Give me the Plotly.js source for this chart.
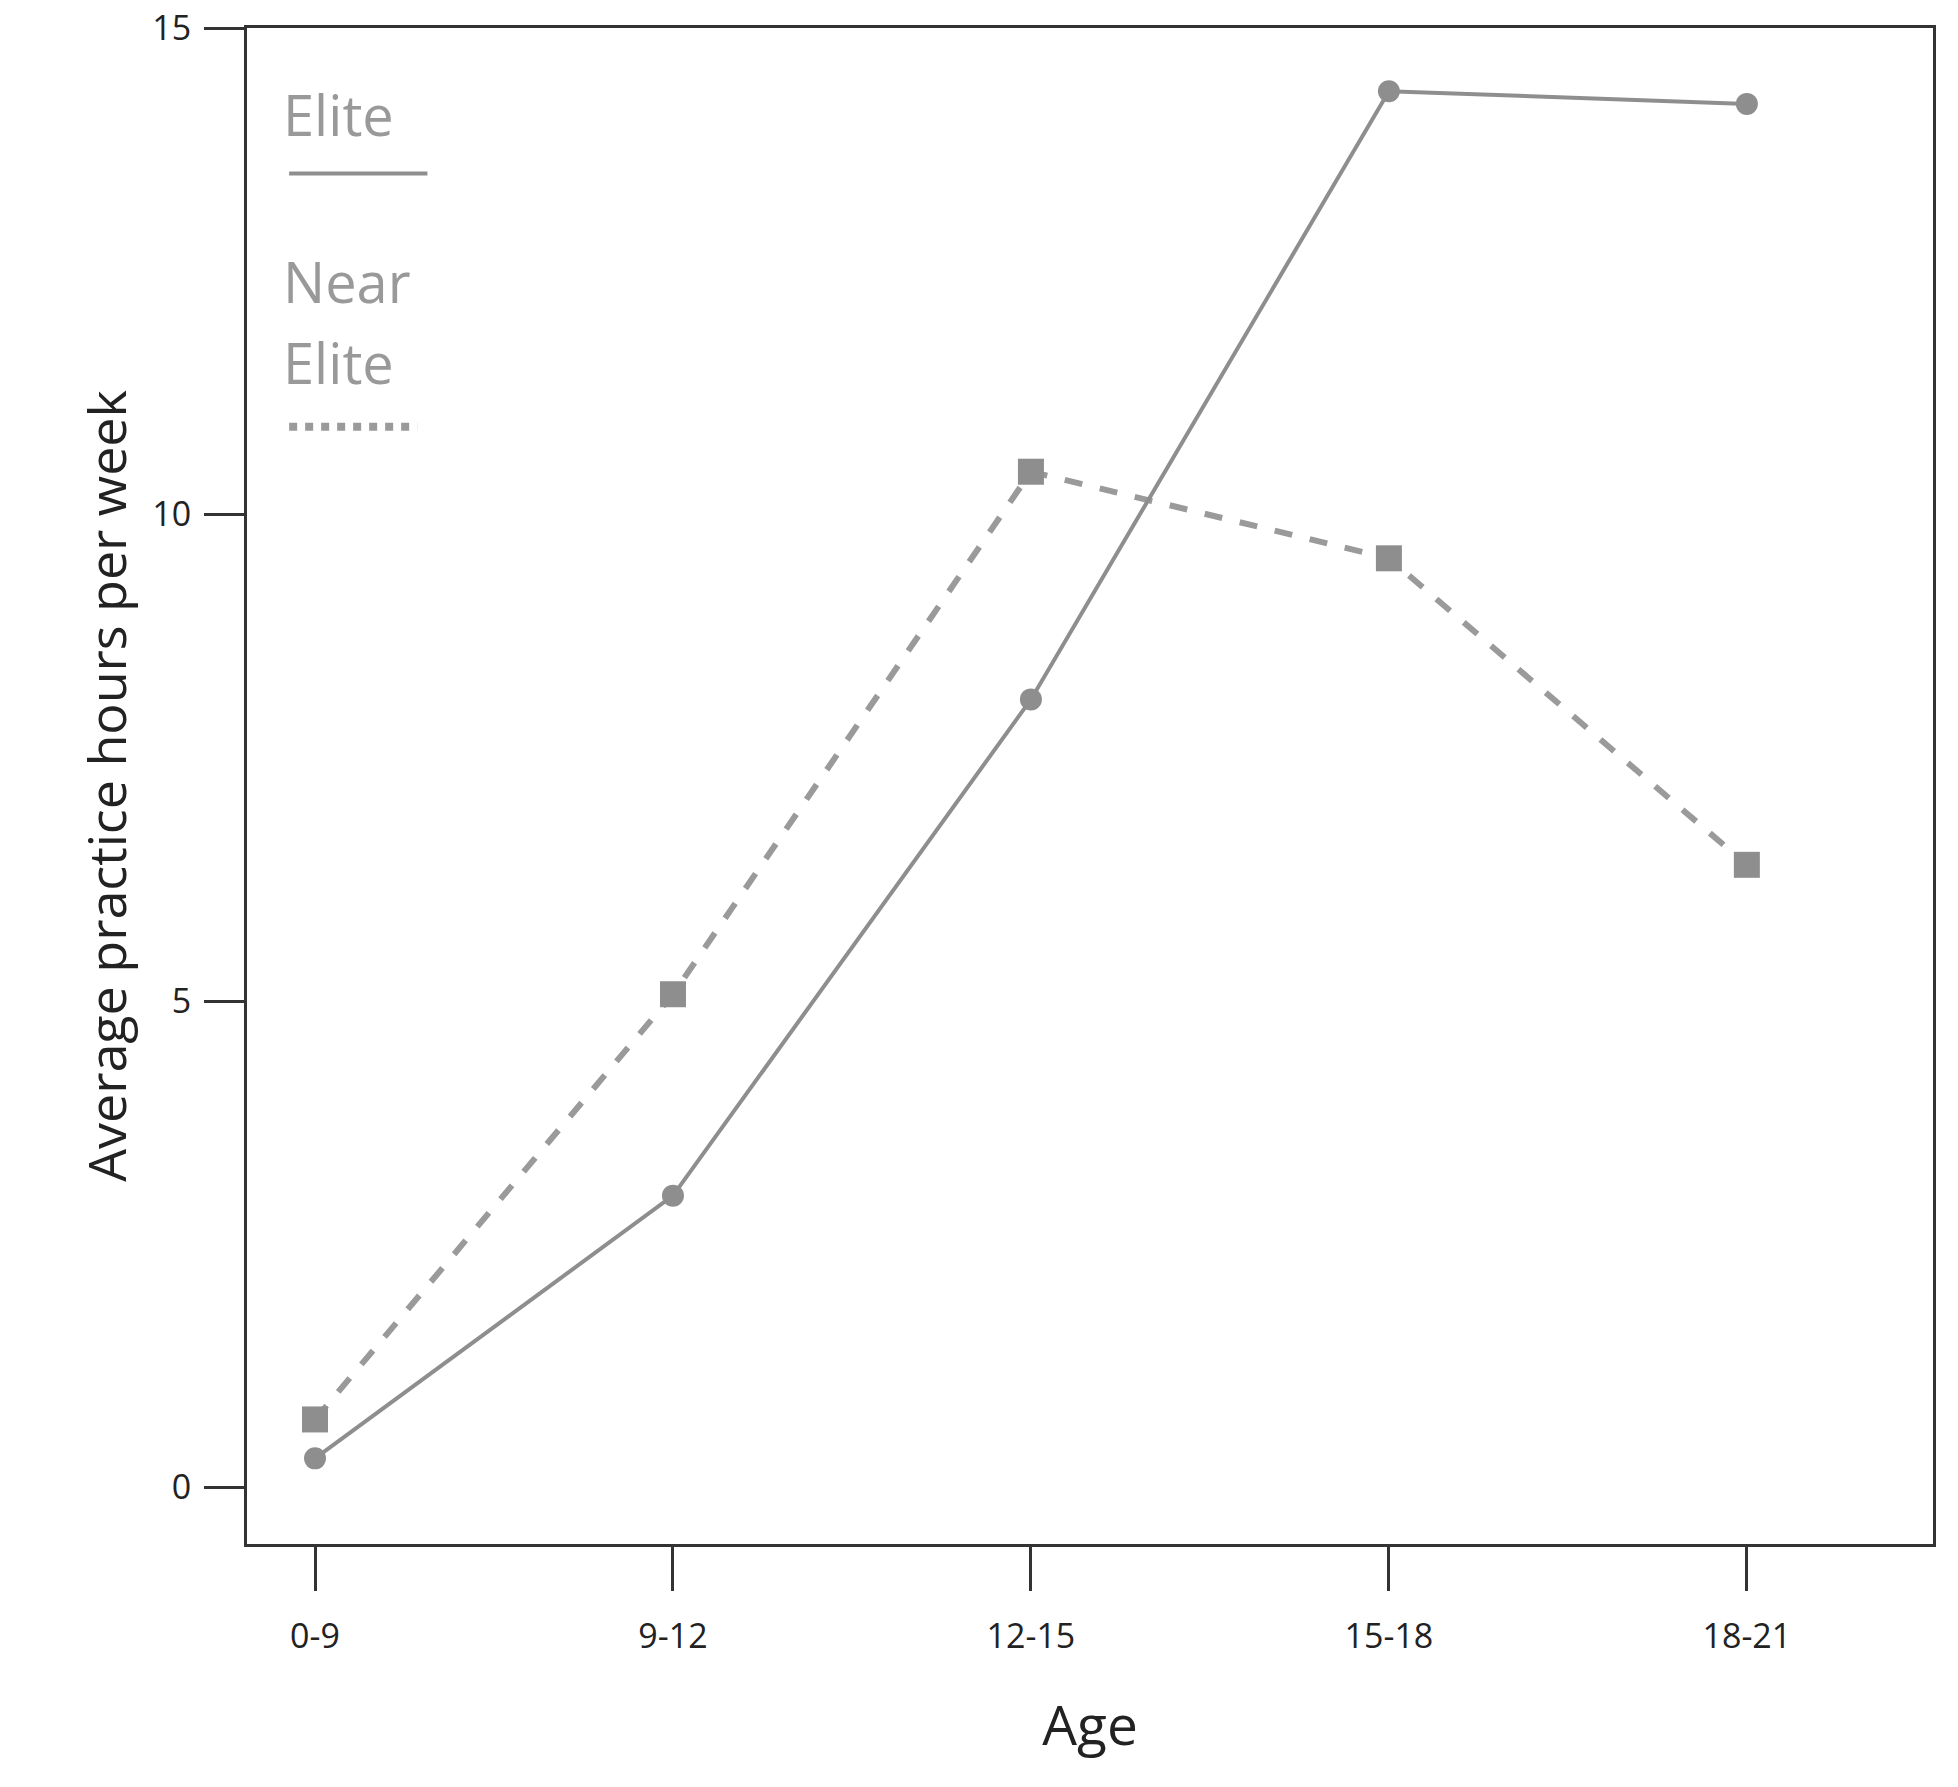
<!DOCTYPE html>
<html>
<head>
<script src="https://cdn.plot.ly/plotly-3.0.1.min.js"></script>
<style>body{margin:0;background:#fff}</style>
</head>
<body>
<div id="chart"></div>
<script>
  const ages = ["0-9", "9-12", "12-15", "15-18", "18-21"];
  const elite = [0.3, 3.0, 8.1, 14.35, 14.22];
  const nearElite = [0.7, 5.07, 10.44, 9.55, 6.4];

  const grey = "#8e8e8e";
  const idx = ages.map((a, i) => i);

  const traces = [
    {
      type: "scatter", mode: "lines+markers", name: "Near Elite",
      x: idx, y: nearElite,
      line: {color: "#9a9a9a", width: 6, dash: "dash"},
      marker: {symbol: "square", size: 26, color: grey},
    },
    {
      type: "scatter", mode: "lines+markers", name: "Elite",
      x: idx, y: elite,
      line: {color: grey, width: 4},
      marker: {symbol: "circle", size: 22, color: grey},
    },
  ];

  const font = "Open Sans, DejaVu Sans, sans-serif";
  const legendFont = {family: font, size: 56, color: "#999"};

  Plotly.newPlot("chart", traces, {
    width: 1958,
    height: 1787,
    showlegend: false,
    margin: {l: 247, r: 25, t: 28, b: 243},
    paper_bgcolor: "#fff",
    plot_bgcolor: "#fff",
    font: {family: font, color: "#222"},
    xaxis: {
      range: [-0.19, 4.52],
      tickvals: idx, ticktext: ages,
      ticks: "outside", ticklen: 44, tickwidth: 3, tickcolor: "#333",
      tickfont: {size: 34}, ticklabelstandoff: 16,
      showline: true, linewidth: 3, linecolor: "#333", mirror: true,
      showgrid: false, zeroline: false,
      title: {text: "Age", font: {size: 55}, standoff: 50},
    },
    yaxis: {
      range: [-0.58, 15],
      tickvals: [0, 5, 10, 15],
      ticks: "outside", ticklen: 40, tickwidth: 3, tickcolor: "#333",
      tickfont: {size: 34}, ticklabelstandoff: 6,
      showline: true, linewidth: 3, linecolor: "#333", mirror: true,
      showgrid: false, zeroline: false,
      title: {text: "Average practice hours per week", font: {size: 52}, standoff: 10},
    },
    annotations: [
      {xref: "paper", yref: "paper", x: 0.02, y: 0.943, xanchor: "left", yanchor: "middle", text: "Elite", showarrow: false, font: legendFont},
      {xref: "paper", yref: "paper", x: 0.02, y: 0.833, xanchor: "left", yanchor: "middle", text: "Near", showarrow: false, font: legendFont},
      {xref: "paper", yref: "paper", x: 0.02, y: 0.78, xanchor: "left", yanchor: "middle", text: "Elite", showarrow: false, font: legendFont},
    ],
    shapes: [
      {type: "line", xref: "paper", yref: "paper", x0: 0.025, x1: 0.107, y0: 0.904, y1: 0.904, line: {color: grey, width: 4}},
      {type: "line", xref: "paper", yref: "paper", x0: 0.025, x1: 0.101, y0: 0.737, y1: 0.737, line: {color: "#9a9a9a", width: 8, dash: "dot"}},
    ],
  }, {displayModeBar: false});
</script>
</body>
</html>
